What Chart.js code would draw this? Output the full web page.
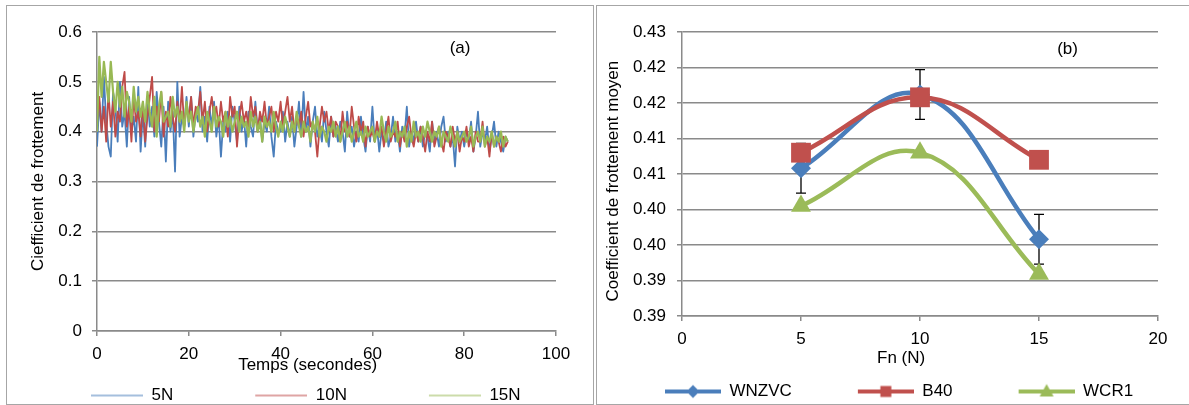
<!DOCTYPE html>
<html>
<head>
<meta charset="utf-8">
<script src="https://cdn.jsdelivr.net/npm/chart.js"></script>
<style>
  html, body { margin: 0; padding: 0; background: #fff; overflow: hidden; width: 1189px; height: 405px; }
  .panel { position: absolute; top: 5px; height: 400px; box-sizing: border-box; border: 1px solid #a6a6a6; }
  #panelA { left: 6px; width: 588px; }
  #panelB { left: 596px; width: 600px; }
  canvas { position: absolute; top: 0; }
  #chartA { left: 0; }
  #chartB { left: 596px; }
</style>
</head>
<body>
<div class="panel" id="panelA"></div>
<div class="panel" id="panelB"></div>
<canvas id="chartA" width="594" height="414"></canvas>
<canvas id="chartB" width="593" height="410"></canvas>
<script>
// ---- (a) friction coefficient over time, one reading every half second ----
const SAMPLE_STEP = 0.5;
const seriesNamesA = ['5N', '10N', '15N'];
const mu5N = [
  0.37,0.46,0.40,0.51,0.42,0.37,0.35,0.48,0.45,0.38, 0.50,0.41,0.44,0.37,0.47,0.40,0.43,0.38,0.49,0.36,
  0.44,0.37,0.47,0.41,0.45,0.39,0.48,0.42,0.37,0.45, 0.34,0.46,0.40,0.44,0.32,0.50,0.39,0.43,0.41,0.47,
  0.41,0.47,0.39,0.44,0.42,0.49,0.40,0.43,0.38,0.45, 0.41,0.46,0.39,0.43,0.35,0.42,0.40,0.44,0.38,0.45,
  0.42,0.38,0.45,0.40,0.43,0.37,0.44,0.41,0.39,0.46, 0.40,0.43,0.38,0.42,0.40,0.45,0.39,0.35,0.42,0.40,
  0.40,0.44,0.38,0.42,0.39,0.43,0.37,0.41,0.46,0.39, 0.48,0.40,0.43,0.37,0.42,0.45,0.39,0.41,0.38,0.44,
  0.40,0.37,0.43,0.39,0.41,0.38,0.42,0.40,0.36,0.44, 0.39,0.41,0.37,0.40,0.38,0.43,0.39,0.36,0.41,0.38,
  0.45,0.38,0.41,0.36,0.40,0.38,0.42,0.37,0.39,0.43, 0.38,0.40,0.36,0.41,0.39,0.45,0.37,0.40,0.38,0.42,
  0.38,0.41,0.37,0.40,0.39,0.36,0.42,0.38,0.40,0.37, 0.41,0.43,0.38,0.40,0.37,0.39,0.33,0.41,0.38,0.40,
  0.37,0.40,0.38,0.42,0.36,0.39,0.44,0.37,0.40,0.38, 0.41,0.36,0.39,0.42,0.37,0.40,0.38,0.36,0.39,0.38
];
const mu10N = [
  0.42,0.47,0.40,0.45,0.38,0.48,0.41,0.46,0.39,0.44, 0.42,0.49,0.52,0.41,0.45,0.38,0.47,0.42,0.44,0.39,
  0.46,0.38,0.43,0.47,0.51,0.40,0.45,0.42,0.48,0.39, 0.44,0.41,0.47,0.43,0.40,0.46,0.42,0.49,0.41,0.45,
  0.43,0.47,0.41,0.45,0.44,0.48,0.42,0.46,0.40,0.44, 0.47,0.43,0.45,0.41,0.46,0.42,0.44,0.39,0.47,0.43,
  0.45,0.37,0.43,0.46,0.42,0.44,0.41,0.47,0.43,0.45, 0.40,0.44,0.42,0.46,0.41,0.43,0.45,0.40,0.44,0.42,
  0.46,0.41,0.44,0.47,0.42,0.45,0.40,0.43,0.41,0.44, 0.39,0.43,0.46,0.41,0.42,0.40,0.35,0.41,0.45,0.42,
  0.44,0.40,0.43,0.39,0.42,0.41,0.38,0.44,0.40,0.42, 0.39,0.45,0.41,0.38,0.43,0.40,0.42,0.37,0.41,0.39,
  0.40,0.38,0.42,0.39,0.41,0.37,0.40,0.43,0.38,0.40, 0.39,0.42,0.37,0.40,0.38,0.41,0.43,0.39,0.37,0.40,
  0.38,0.41,0.39,0.36,0.40,0.38,0.42,0.37,0.39,0.41, 0.38,0.36,0.40,0.39,0.37,0.41,0.38,0.40,0.36,0.39,
  0.38,0.41,0.37,0.39,0.36,0.40,0.38,0.38,0.42,0.37, 0.39,0.35,0.40,0.37,0.39,0.38,0.36,0.39,0.37,0.38
];
const mu15N = [
  0.40,0.55,0.47,0.54,0.50,0.46,0.54,0.48,0.44,0.50, 0.45,0.49,0.43,0.48,0.46,0.42,0.49,0.44,0.47,0.43,
  0.46,0.42,0.48,0.44,0.41,0.47,0.39,0.45,0.48,0.42, 0.43,0.44,0.41,0.47,0.43,0.45,0.42,0.44,0.40,0.46,
  0.42,0.44,0.40,0.43,0.45,0.41,0.43,0.39,0.44,0.42, 0.40,0.45,0.41,0.43,0.42,0.39,0.44,0.41,0.43,0.40,
  0.42,0.44,0.40,0.43,0.41,0.42,0.39,0.44,0.41,0.43, 0.40,0.42,0.38,0.43,0.41,0.42,0.40,0.44,0.41,0.39,
  0.42,0.40,0.43,0.41,0.39,0.42,0.40,0.44,0.41,0.39, 0.42,0.40,0.41,0.38,0.42,0.40,0.43,0.39,0.41,0.40,
  0.38,0.41,0.40,0.42,0.39,0.41,0.38,0.40,0.42,0.39, 0.41,0.38,0.40,0.42,0.39,0.40,0.38,0.41,0.39,0.40,
  0.41,0.38,0.40,0.39,0.43,0.40,0.38,0.41,0.39,0.40, 0.42,0.38,0.40,0.39,0.41,0.37,0.40,0.38,0.42,0.39,
  0.40,0.38,0.41,0.39,0.42,0.40,0.38,0.40,0.39,0.41, 0.37,0.40,0.39,0.38,0.41,0.39,0.37,0.40,0.38,0.39,
  0.40,0.38,0.39,0.41,0.37,0.39,0.40,0.38,0.41,0.37, 0.39,0.38,0.40,0.37,0.39,0.38,0.40,0.37,0.39,0.38
];
const xTicksA = ['0', '20', '40', '60', '80', '100'];
const yTicksA = ['0', '0.1', '0.2', '0.3', '0.4', '0.5', '0.6'];

// ---- (b) mean friction coefficient against normal force ----
const forceN = [5, 10, 15];
const seriesNamesB = ['WNZVC', 'B40', 'WCR1'];
const muWNZVC = [0.4108, 0.4212, 0.4008];
const muB40 = [0.4130, 0.4208, 0.4120];
const muWCR1 = [0.4055, 0.4130, 0.3959];
const errWNZVC = [0.0035, 0.0035, 0.0035];
const xTicksB = ['0', '5', '10', '15', '20'];
const yTicksB = ['0.39', '0.39', '0.40', '0.40', '0.41', '0.41', '0.42', '0.42', '0.43'];

const FONT = '"Liberation Sans", Arial, sans-serif';
Chart.defaults.font.family = FONT;
Chart.defaults.font.size = 17;
Chart.defaults.color = '#000';

const gridGray = '#8a8a8a';
const colorsA = ['#4a7ebb', '#be4b48', '#98b954'];
const colorsB = ['#4a7ebb', '#c0504d', '#9bbb59'];
const NBSP = '\u00A0';

// legend icon: blank gap on the left, then the line (and marker) on the right
function legendIcon(color, boxW, lineLen, lineW, marker) {
  const c = document.createElement('canvas');
  c.width = boxW;
  c.height = 24;
  const g = c.getContext('2d');
  const cy = 12, cx = boxW - lineLen / 2;
  g.strokeStyle = color;
  g.fillStyle = color;
  g.lineWidth = lineW;
  g.beginPath();
  g.moveTo(boxW - lineLen, cy);
  g.lineTo(boxW, cy);
  g.stroke();
  g.beginPath();
  if (marker === 'diamond') {
    g.moveTo(cx - 6.5, cy); g.lineTo(cx, cy - 6.5); g.lineTo(cx + 6.5, cy); g.lineTo(cx, cy + 6.5);
  } else if (marker === 'square') {
    g.rect(cx - 5.5, cy - 5.5, 11, 11);
  } else if (marker === 'triangle') {
    g.moveTo(cx, cy - 7.5); g.lineTo(cx + 7, cy + 5); g.lineTo(cx - 7, cy + 5);
  }
  if (marker) g.fill();
  return c;
}

const iconsA = colorsA.map(c => legendIcon(c, 124, 52, 1, null));
const iconsB = [
  legendIcon(colorsB[0], 112, 56, 4, 'diamond'),
  legendIcon(colorsB[1], 112, 56, 4, 'square'),
  legendIcon(colorsB[2], 112, 56, 4, 'triangle')
];

function legendOptions(icons, boxW) {
  return {
    position: 'bottom',
    align: 'start',
    labels: {
      usePointStyle: true,
      pointStyleWidth: boxW,
      padding: 10,
      color: '#000',
      font: { size: 17 },
      sort: (a, b) => a.datasetIndex - b.datasetIndex,
      generateLabels(chart) {
        const items = Chart.defaults.plugins.legend.labels.generateLabels(chart);
        items.forEach(it => { it.pointStyle = icons[it.datasetIndex]; });
        return items;
      }
    }
  };
}

// "(a)" / "(b)" tag placed in data coordinates
function panelTag(text, xv, yv) {
  return {
    id: 'panelTag',
    afterDraw(chart) {
      const { ctx, scales: { x, y } } = chart;
      ctx.save();
      ctx.font = '17px ' + FONT;
      ctx.fillStyle = '#000';
      ctx.textAlign = 'center';
      ctx.textBaseline = 'middle';
      ctx.fillText(text, x.getPixelForValue(xv), y.getPixelForValue(yv));
      ctx.restore();
    }
  };
}

// error bars for WNZVC, drawn under the markers
const errorBars = {
  id: 'errorBars',
  beforeDatasetsDraw(chart) {
    const { ctx, scales: { x, y } } = chart;
    ctx.save();
    ctx.strokeStyle = '#000';
    ctx.lineWidth = 1.3;
    forceN.forEach((f, i) => {
      const px = x.getPixelForValue(f);
      const hi = y.getPixelForValue(muWNZVC[i] + errWNZVC[i]);
      const lo = y.getPixelForValue(muWNZVC[i] - errWNZVC[i]);
      ctx.beginPath();
      ctx.moveTo(px, hi); ctx.lineTo(px, lo);
      ctx.moveTo(px - 5, hi); ctx.lineTo(px + 5, hi);
      ctx.moveTo(px - 5, lo); ctx.lineTo(px + 5, lo);
      ctx.stroke();
    });
    ctx.restore();
  }
};

const toTimePoints = ys => ys.map((v, i) => ({ x: i * SAMPLE_STEP, y: v }));
const toForcePoints = ys => forceN.map((f, i) => ({ x: f, y: ys[i] }));

// ---------- chart (a) ----------
const dataA = [mu5N, mu10N, mu15N];
new Chart(document.getElementById('chartA'), {
  type: 'line',
  data: {
    datasets: dataA.map((ys, i) => ({
      label: seriesNamesA[i],
      data: toTimePoints(ys),
      borderColor: colorsA[i],
      backgroundColor: colorsA[i],
      borderWidth: i === 2 ? 2.2 : 1.8,
      borderJoinStyle: 'round',
      pointRadius: 0,
      tension: 0,
      order: 3 - i
    }))
  },
  options: {
    responsive: false,
    animation: false,
    devicePixelRatio: 1,
    events: [],
    layout: { padding: { left: 9, right: 38, top: 32, bottom: 0 } },
    scales: {
      x: {
        type: 'linear',
        min: 0, max: 100,
        afterFit(scale) { scale.height = 46; },
        ticks: { stepSize: 20, padding: 8, maxRotation: 0, autoSkip: false, callback: (v, i) => xTicksA[i] },
        grid: { drawOnChartArea: false, drawTicks: true, tickLength: 5, color: gridGray, lineWidth: 1.5 },
        border: { color: gridGray, width: 1.5 },
        // trailing spaces pull the centred title a little left, as in the original
        title: { display: true, text: 'Temps (secondes)' + NBSP.repeat(8), padding: { top: 0, bottom: 1 } }
      },
      y: {
        min: 0, max: 0.6,
        afterFit(scale) { scale.width = 88; },
        ticks: { stepSize: 0.1, padding: 10, autoSkip: false, callback: (v, i) => yTicksA[i] },
        grid: { color: gridGray, lineWidth: 1.5, tickLength: 5 },
        border: { color: gridGray, width: 1.5 },
        title: { display: true, text: 'Ciefficient de frottement', padding: { top: 19, bottom: 0 } }
      }
    },
    plugins: {
      legend: legendOptions(iconsA, 124),
      tooltip: { enabled: false }
    }
  },
  plugins: [panelTag('(a)', 79.1, 0.568)]
});

// ---------- chart (b) ----------
const dataB = [muWNZVC, muB40, muWCR1];
const stylesB = [
  { pointStyle: 'rectRot', pointRadius: 10 },
  { pointStyle: 'rect', pointRadius: 14 },
  { pointStyle: 'triangle', pointRadius: 11.5 }
];
new Chart(document.getElementById('chartB'), {
  type: 'line',
  data: {
    datasets: dataB.map((ys, i) => ({
      label: seriesNamesB[i],
      data: toForcePoints(ys),
      borderColor: colorsB[i],
      backgroundColor: colorsB[i],
      pointBackgroundColor: colorsB[i],
      pointBorderWidth: 0,
      pointStyle: stylesB[i].pointStyle,
      pointRadius: stylesB[i].pointRadius,
      borderWidth: 4.5,
      tension: 0.4,
      order: 3 - i
    }))
  },
  options: {
    responsive: false,
    animation: false,
    devicePixelRatio: 1,
    events: [],
    layout: { padding: { left: 3, right: 31, top: 32, bottom: 0 } },
    scales: {
      x: {
        type: 'linear',
        min: 0, max: 20,
        afterFit(scale) { scale.height = 57; },
        ticks: { stepSize: 5, padding: 8, maxRotation: 0, autoSkip: false, callback: (v, i) => xTicksB[i] },
        grid: { drawOnChartArea: false, drawTicks: true, tickLength: 5, color: gridGray, lineWidth: 1.5 },
        border: { color: gridGray, width: 1.5 },
        title: { display: true, text: 'Fn (N)' + NBSP.repeat(8), padding: { top: 0, bottom: 4 } }
      },
      y: {
        min: 0.39, max: 0.43,
        afterFit(scale) { scale.width = 83; },
        ticks: { stepSize: 0.005, padding: 11, autoSkip: false, callback: (v, i) => yTicksB[i] },
        grid: { color: gridGray, lineWidth: 1.5, tickLength: 5 },
        border: { color: gridGray, width: 1.5 },
        title: { display: true, text: 'Coefficient de frottement moyen' + NBSP.repeat(3), padding: { top: 4, bottom: 0 } }
      }
    },
    plugins: {
      legend: legendOptions(iconsB, 112),
      tooltip: { enabled: false }
    }
  },
  plugins: [errorBars, panelTag('(b)', 16.2, 0.4276)]
});
</script>
</body>
</html>
